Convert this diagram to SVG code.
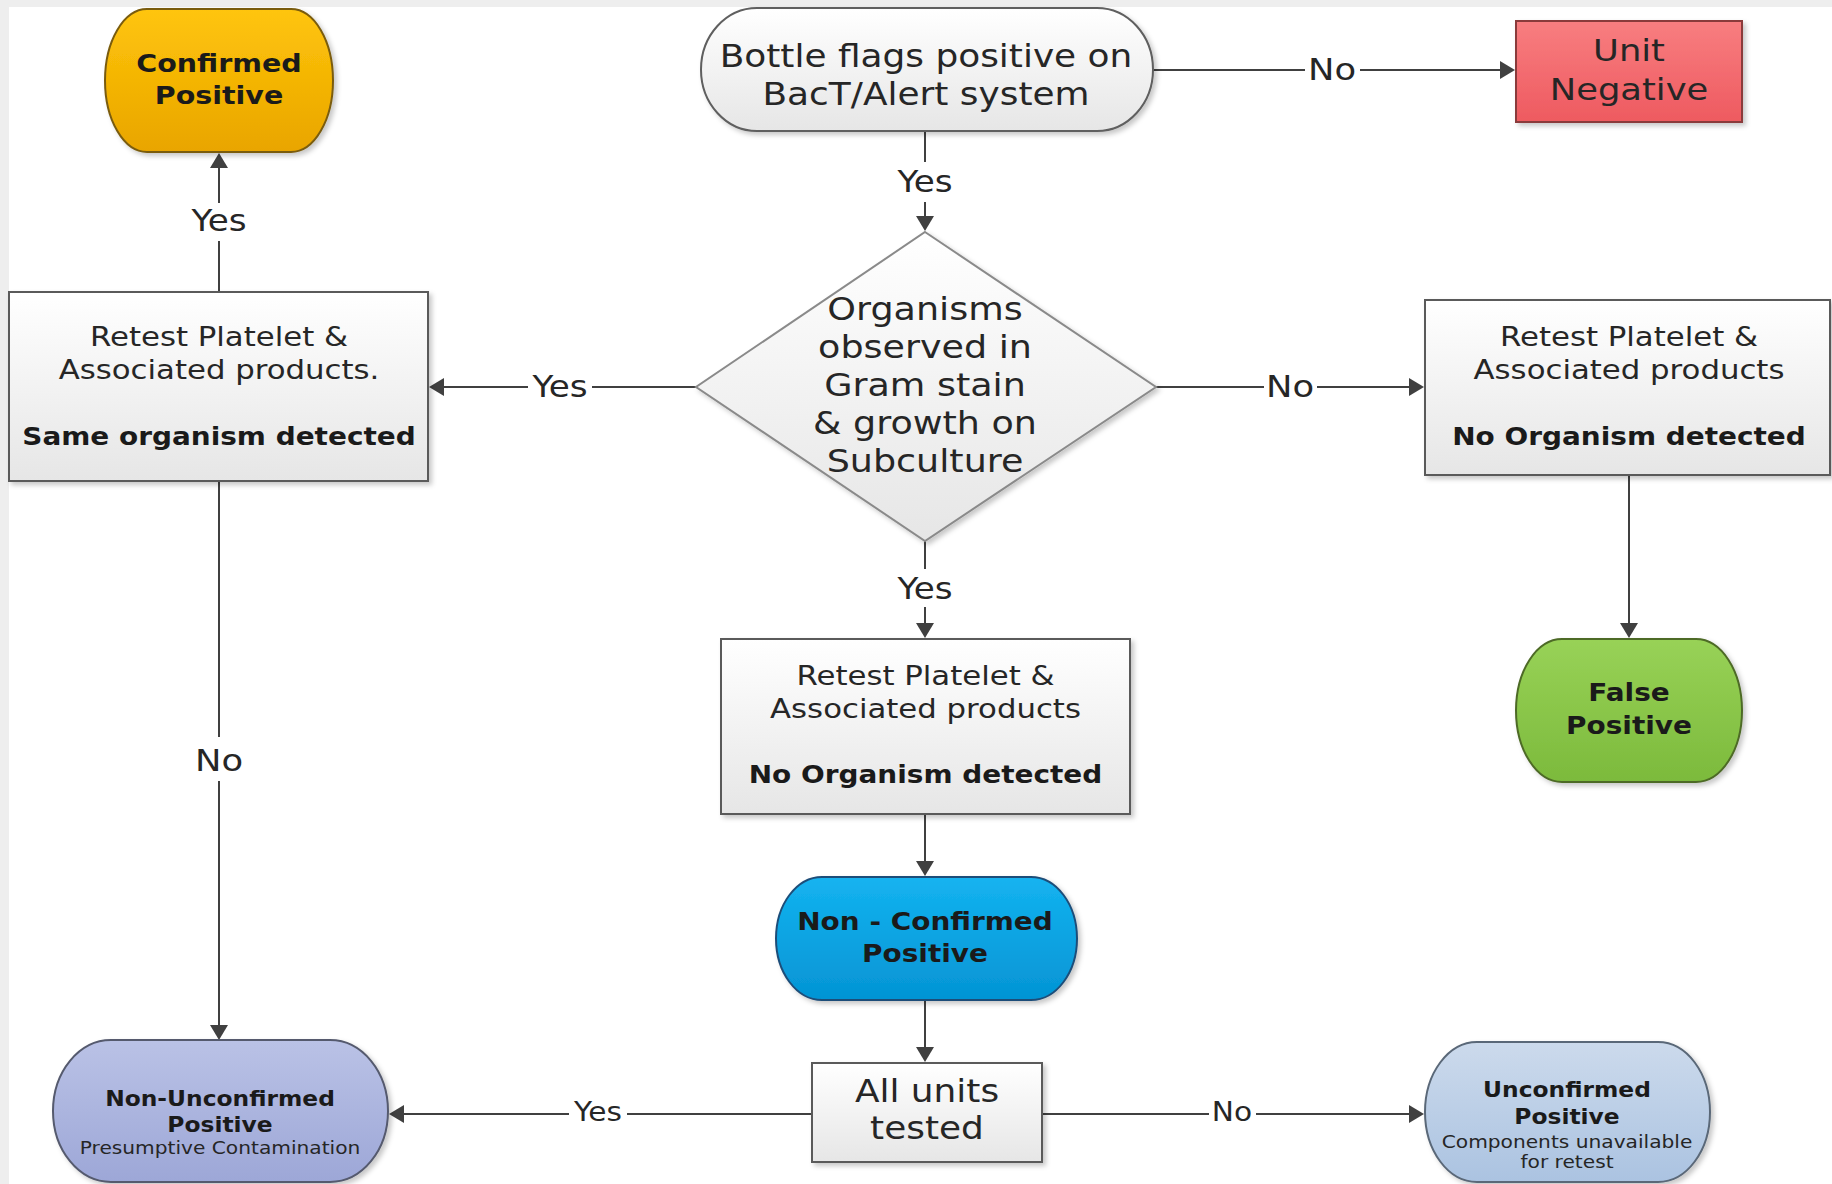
<svg xmlns="http://www.w3.org/2000/svg" width="1832" height="1184" viewBox="0 0 1832 1184">
<defs>
  <linearGradient id="gGray" x1="0" y1="0" x2="0" y2="1"><stop offset="0" stop-color="#ffffff"/><stop offset="1" stop-color="#e6e6e6"/></linearGradient>
  <linearGradient id="gGold" x1="0" y1="0" x2="0" y2="1"><stop offset="0" stop-color="#FFC50A"/><stop offset="1" stop-color="#E9A500"/></linearGradient>
  <linearGradient id="gRed" x1="0" y1="0" x2="0" y2="1"><stop offset="0" stop-color="#F87E80"/><stop offset="1" stop-color="#EE5A60"/></linearGradient>
  <linearGradient id="gGreen" x1="0" y1="0" x2="0" y2="1"><stop offset="0" stop-color="#98D257"/><stop offset="1" stop-color="#7CBA3C"/></linearGradient>
  <linearGradient id="gBlue" x1="0" y1="0" x2="0" y2="1"><stop offset="0" stop-color="#14B3F0"/><stop offset="1" stop-color="#0494D4"/></linearGradient>
  <linearGradient id="gLav" x1="0" y1="0" x2="0" y2="1"><stop offset="0" stop-color="#BAC2E6"/><stop offset="1" stop-color="#9DA7D7"/></linearGradient>
  <linearGradient id="gLBlue" x1="0" y1="0" x2="0" y2="1"><stop offset="0" stop-color="#CCDAEC"/><stop offset="1" stop-color="#ABC3E1"/></linearGradient>
  <filter id="sh" x="-10%" y="-10%" width="125%" height="130%">
    <feDropShadow dx="3" dy="3" stdDeviation="2.5" flood-color="#000" flood-opacity="0.22"/>
  </filter>
  <marker id="ah" markerUnits="userSpaceOnUse" markerWidth="16" markerHeight="18" refX="11" refY="9" orient="auto">
    <path d="M0,0 L15,9 L0,18 Z" fill="#404040"/>
  </marker>
</defs>
<style>
  .ln { stroke:#404040; stroke-width:2; fill:none; }
  .ar { marker-end:url(#ah); }
  .t { font-family:"DejaVu Sans", Verdana, sans-serif; fill:#262626; text-anchor:middle; }
  .b { font-weight:bold; fill:#1a1a1a; }
  .lbl { font-family:"DejaVu Sans", Verdana, sans-serif; fill:#262626; text-anchor:middle; }
  .box { fill:url(#gGray); stroke:#5a5a5a; stroke-width:2; filter:url(#sh); }
</style>

<rect x="0" y="0" width="1832" height="1184" fill="#ffffff"/>
<rect x="0" y="0" width="1832" height="7" fill="#eeeeee"/>
<rect x="0" y="0" width="9" height="1184" fill="#eeeeee"/>

<g id="connectors">
  <line class="ln" x1="1153" y1="70" x2="1305" y2="70"/>
  <line class="ln ar" x1="1360" y1="70" x2="1511" y2="70"/>
  <line class="ln" x1="925" y1="131" x2="925" y2="162"/>
  <line class="ln ar" x1="925" y1="202" x2="925" y2="227"/>
  <line class="ln" x1="697" y1="387" x2="592" y2="387"/>
  <line class="ln ar" x1="528" y1="387" x2="433" y2="387"/>
  <line class="ln" x1="1156" y1="387" x2="1264" y2="387"/>
  <line class="ln ar" x1="1317" y1="387" x2="1420" y2="387"/>
  <line class="ln" x1="219" y1="292" x2="219" y2="241"/>
  <line class="ln ar" x1="219" y1="203" x2="219" y2="157"/>
  <line class="ln" x1="219" y1="481" x2="219" y2="737"/>
  <line class="ln ar" x1="219" y1="781" x2="219" y2="1036"/>
  <line class="ln" x1="925" y1="541" x2="925" y2="569"/>
  <line class="ln ar" x1="925" y1="607" x2="925" y2="634"/>
  <line class="ln ar" x1="1629" y1="475" x2="1629" y2="634"/>
  <line class="ln ar" x1="925" y1="814" x2="925" y2="872"/>
  <line class="ln ar" x1="925" y1="1000" x2="925" y2="1058"/>
  <line class="ln" x1="812" y1="1114" x2="627" y2="1114"/>
  <line class="ln ar" x1="569" y1="1114" x2="393" y2="1114"/>
  <line class="ln" x1="1042" y1="1114" x2="1209" y2="1114"/>
  <line class="ln ar" x1="1256" y1="1114" x2="1420" y2="1114"/>
  <text class="lbl" font-size="31" transform="translate(1332,80) scale(1.14,1)">No</text>
  <text class="lbl" font-size="30" transform="translate(925,192) scale(1.14,1)">Yes</text>
  <text class="lbl" font-size="30" transform="translate(560,397) scale(1.14,1)">Yes</text>
  <text class="lbl" font-size="31" transform="translate(1290,397) scale(1.14,1)">No</text>
  <text class="lbl" font-size="30" transform="translate(219,231) scale(1.14,1)">Yes</text>
  <text class="lbl" font-size="31" transform="translate(219,771) scale(1.14,1)">No</text>
  <text class="lbl" font-size="30" transform="translate(925,599) scale(1.14,1)">Yes</text>
  <text class="lbl" font-size="26" transform="translate(598,1121) scale(1.14,1)">Yes</text>
  <text class="lbl" font-size="26" transform="translate(1232,1121) scale(1.14,1)">No</text>
</g>

<g id="start">
  <rect x="701" y="8" width="452" height="123" rx="56" ry="61.5" fill="url(#gGray)" stroke="#5e5e5e" stroke-width="2" filter="url(#sh)"/>
  <g transform="translate(926,0) scale(1.14,1)">
    <text class="t" y="67" font-size="31.5">Bottle flags positive on</text>
    <text class="t" y="105" font-size="31.5">BacT/Alert system</text>
  </g>
</g>

<g id="unit-negative">
  <rect x="1516" y="21" width="226" height="101" fill="url(#gRed)" stroke="#8a3a3a" stroke-width="2" filter="url(#sh)"/>
  <g transform="translate(1629,0) scale(1.14,1)">
    <text class="t" y="61" font-size="31" fill="#2a0f0f">Unit</text>
    <text class="t" y="100" font-size="31" fill="#2a0f0f">Negative</text>
  </g>
</g>

<g id="decision">
  <path d="M925,232 L1156,387 L925,541 L696,387 Z" fill="url(#gGray)" stroke="#8a8a8a" stroke-width="2" filter="url(#sh)"/>
  <g transform="translate(925,0) scale(1.14,1)">
    <text class="t" y="320" font-size="32">Organisms</text>
    <text class="t" y="358" font-size="32">observed in</text>
    <text class="t" y="396" font-size="32">Gram stain</text>
    <text class="t" y="434" font-size="32">&amp; growth on</text>
    <text class="t" y="472" font-size="32">Subculture</text>
  </g>
</g>

<g id="confirmed-positive">
  <rect x="105" y="9" width="228" height="143" rx="42" ry="71.5" fill="url(#gGold)" stroke="#7a5c10" stroke-width="2" filter="url(#sh)"/>
  <g transform="translate(219,0) scale(1.14,1)">
    <text class="t b" y="72" font-size="25">Confirmed</text>
    <text class="t b" y="104" font-size="25">Positive</text>
  </g>
</g>

<g id="retest-left">
  <rect class="box" x="9" y="292" width="419" height="189"/>
  <g transform="translate(219,0) scale(1.14,1)">
    <text class="t" y="346" font-size="27">Retest Platelet &amp;</text>
    <text class="t" y="379" font-size="27">Associated products.</text>
    <text class="t b" y="445" font-size="24.5">Same organism detected</text>
  </g>
</g>

<g id="retest-right">
  <rect class="box" x="1425" y="300" width="405" height="175"/>
  <g transform="translate(1629,0) scale(1.14,1)">
    <text class="t" y="346" font-size="27">Retest Platelet &amp;</text>
    <text class="t" y="379" font-size="27">Associated products</text>
    <text class="t b" y="445" font-size="24.5">No Organism detected</text>
  </g>
</g>

<g id="false-positive">
  <rect x="1516" y="639" width="226" height="143" rx="46" ry="71.5" fill="url(#gGreen)" stroke="#4d6a26" stroke-width="2" filter="url(#sh)"/>
  <g transform="translate(1629,0) scale(1.14,1)">
    <text class="t b" y="701" font-size="24.5">False</text>
    <text class="t b" y="734" font-size="24.5">Positive</text>
  </g>
</g>

<g id="retest-center">
  <rect class="box" x="721" y="639" width="409" height="175"/>
  <g transform="translate(925.5,0) scale(1.14,1)">
    <text class="t" y="685" font-size="27">Retest Platelet &amp;</text>
    <text class="t" y="718" font-size="27">Associated products</text>
    <text class="t b" y="783" font-size="24.5">No Organism detected</text>
  </g>
</g>

<g id="non-confirmed-positive">
  <rect x="776" y="877" width="301" height="123" rx="46" ry="61.5" fill="url(#gBlue)" stroke="#1f4e79" stroke-width="2" filter="url(#sh)"/>
  <g transform="translate(925,0) scale(1.14,1)">
    <text class="t b" y="930" font-size="24.5" fill="#0b1d3d">Non - Confirmed</text>
    <text class="t b" y="962" font-size="24.5" fill="#0b1d3d">Positive</text>
  </g>
</g>

<g id="all-units-tested">
  <rect class="box" x="812" y="1063" width="230" height="99"/>
  <g transform="translate(927,0) scale(1.14,1)">
    <text class="t" y="1102" font-size="31.5">All units</text>
    <text class="t" y="1139" font-size="31.5">tested</text>
  </g>
</g>

<g id="non-unconfirmed-positive">
  <rect x="53" y="1040" width="335" height="142" rx="58" ry="71" fill="url(#gLav)" stroke="#555a6e" stroke-width="2" filter="url(#sh)"/>
  <g transform="translate(220,0) scale(1.14,1)">
    <text class="t b" y="1106" font-size="20.5" fill="#141c38">Non-Unconfirmed</text>
    <text class="t b" y="1132" font-size="20.5" fill="#141c38">Positive</text>
    <text class="t" y="1154" font-size="17.7" fill="#2c3766">Presumptive Contamination</text>
  </g>
</g>

<g id="unconfirmed-positive">
  <rect x="1425" y="1042" width="285" height="140" rx="52" ry="70" fill="url(#gLBlue)" stroke="#5a6878" stroke-width="2" filter="url(#sh)"/>
  <g transform="translate(1567,0) scale(1.14,1)">
    <text class="t b" y="1097" font-size="20.5" fill="#16233a">Unconfirmed</text>
    <text class="t b" y="1124" font-size="20.5" fill="#16233a">Positive</text>
    <text class="t" y="1148" font-size="17.7" fill="#1f3550">Components unavailable</text>
    <text class="t" y="1168" font-size="17.7" fill="#1f3550">for retest</text>
  </g>
</g>
</svg>
